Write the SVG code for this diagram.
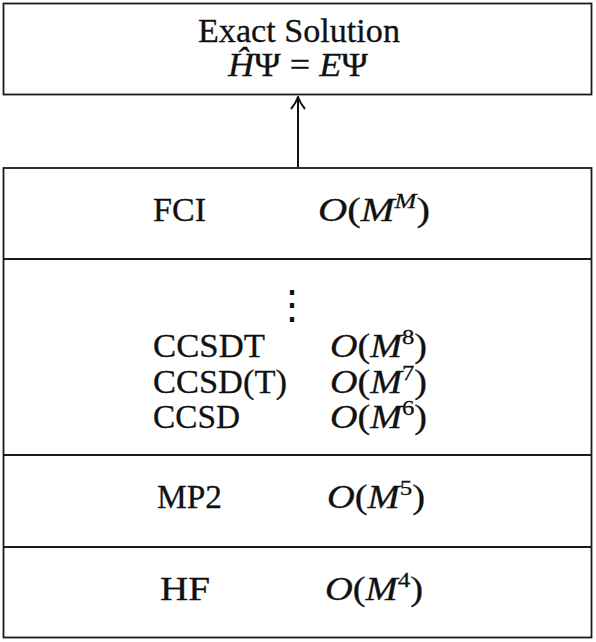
<svg xmlns="http://www.w3.org/2000/svg" width="596" height="642" viewBox="0 0 596 642">
<style>
.box{fill:#fff;stroke:#1a1a1a;stroke-width:1.8}
.div{stroke:#1a1a1a;stroke-width:2.2}
.t{font-family:"Liberation Serif","DejaVu Serif",serif;font-size:34px;fill:#111;stroke:#111;stroke-width:0.3}
.i{font-style:italic}
.sup{font-size:22px}
.conn{stroke:#111;stroke-width:2;fill:none}
</style>
<defs>
<marker id="arr" viewBox="0 0 14 16" refX="13" refY="8" markerWidth="14" markerHeight="16" markerUnits="userSpaceOnUse" orient="auto">
<path d="M1,1 Q7,6 13,8 Q7,10 1,15" fill="none" stroke="#111" stroke-width="2"/>
</marker>
</defs>
<rect width="596" height="642" fill="#fff"/>
<g id="connectors">
<line class="conn" x1="298" y1="167" x2="298" y2="97" marker-end="url(#arr)"/>
</g>
<g id="exact">
<rect class="box" x="3.5" y="3.5" width="588" height="91"/>
<text class="t" x="198" y="42" textLength="202" lengthAdjust="spacingAndGlyphs">Exact Solution</text>
<text class="t" x="228" y="76" textLength="140" lengthAdjust="spacingAndGlyphs"><tspan class="i">Ĥ</tspan>Ψ = <tspan class="i">E</tspan>Ψ</text>
</g>
<g id="methods">
<rect class="box" x="3.5" y="168" width="588" height="469.5"/>
<line class="div" x1="3.5" y1="259" x2="591.5" y2="259"/>
<line class="div" x1="3.5" y1="455" x2="591.5" y2="455"/>
<line class="div" x1="3.5" y1="547" x2="591.5" y2="547"/>
</g>
<g id="fci">
<text class="t" x="153" y="221" textLength="53" lengthAdjust="spacingAndGlyphs">FCI</text>
<text class="t" x="318" y="221" textLength="112" lengthAdjust="spacingAndGlyphs"><tspan class="i">O</tspan>(<tspan class="i">M</tspan><tspan class="sup i" dy="-13">M</tspan><tspan dy="13">)</tspan></text>
</g>
<g id="cc">
<text x="292" y="318" text-anchor="middle" style="font-family:'DejaVu Serif',serif;font-size:40px;fill:#111">⋮</text>
<text class="t" x="153" y="357" textLength="112" lengthAdjust="spacingAndGlyphs">CCSDT</text>
<text class="t" x="330" y="357" textLength="97" lengthAdjust="spacingAndGlyphs"><tspan class="i">O</tspan>(<tspan class="i">M</tspan><tspan class="sup" dy="-13">8</tspan><tspan dy="13">)</tspan></text>
<text class="t" x="153" y="393" textLength="134" lengthAdjust="spacingAndGlyphs">CCSD(T)</text>
<text class="t" x="330" y="393" textLength="97" lengthAdjust="spacingAndGlyphs"><tspan class="i">O</tspan>(<tspan class="i">M</tspan><tspan class="sup" dy="-13">7</tspan><tspan dy="13">)</tspan></text>
<text class="t" x="153" y="428" textLength="87" lengthAdjust="spacingAndGlyphs">CCSD</text>
<text class="t" x="330" y="428" textLength="97" lengthAdjust="spacingAndGlyphs"><tspan class="i">O</tspan>(<tspan class="i">M</tspan><tspan class="sup" dy="-13">6</tspan><tspan dy="13">)</tspan></text>
</g>
<g id="mp2">
<text class="t" x="157" y="508" textLength="65" lengthAdjust="spacingAndGlyphs">MP2</text>
<text class="t" x="327" y="508" textLength="98" lengthAdjust="spacingAndGlyphs"><tspan class="i">O</tspan>(<tspan class="i">M</tspan><tspan class="sup" dy="-13">5</tspan><tspan dy="13">)</tspan></text>
</g>
<g id="hf">
<text class="t" x="160" y="600" textLength="50" lengthAdjust="spacingAndGlyphs">HF</text>
<text class="t" x="325" y="600" textLength="98" lengthAdjust="spacingAndGlyphs"><tspan class="i">O</tspan>(<tspan class="i">M</tspan><tspan class="sup" dy="-13">4</tspan><tspan dy="13">)</tspan></text>
</g>
</svg>
